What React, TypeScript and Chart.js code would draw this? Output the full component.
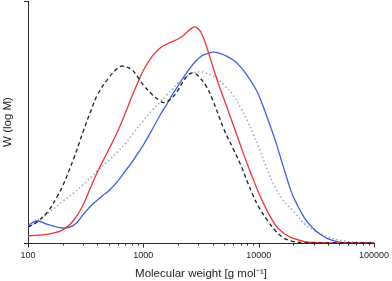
import React, { useEffect, useRef } from "react";
import { Chart, registerables } from "chart.js";

Chart.register(...registerables);

// x tick labels (powers of ten) and log axis range
const majorTicks = [100, 1000, 10000, 100000];
const xMin = 100;
const xMax = 100000;

// Series 1: black dashed
const dashedM = [100, 120, 150, 180, 200, 250, 300, 350, 400, 500, 600, 650, 700, 800, 900, 1000, 1200, 1400, 1500, 1600, 1800, 2000, 2200, 2400, 2600, 2800, 3000, 3500, 4000, 5000, 6000, 7000, 8000, 9000, 10000, 12000, 14000, 16000, 18000, 20000, 25000, 30000, 100000];
const dashedW = [0.066, 0.087, 0.132, 0.194, 0.236, 0.351, 0.459, 0.545, 0.612, 0.682, 0.723, 0.731, 0.729, 0.715, 0.684, 0.653, 0.612, 0.587, 0.58, 0.583, 0.603, 0.632, 0.665, 0.69, 0.702, 0.7, 0.69, 0.649, 0.59, 0.47, 0.39, 0.322, 0.252, 0.194, 0.149, 0.091, 0.05, 0.025, 0.012, 0.006, 0.001, 0, 0];

// Series 2: red solid
const redM = [100, 150, 200, 250, 300, 350, 400, 450, 500, 600, 700, 800, 900, 1000, 1200, 1400, 1600, 1800, 2000, 2200, 2400, 2600, 2800, 3000, 3200, 3500, 4000, 4500, 5000, 6000, 7000, 8000, 9000, 10000, 12000, 14000, 16000, 18000, 20000, 25000, 30000, 40000, 100000];
const redW = [0.029, 0.037, 0.054, 0.095, 0.157, 0.231, 0.293, 0.343, 0.385, 0.462, 0.538, 0.608, 0.665, 0.713, 0.773, 0.806, 0.822, 0.833, 0.843, 0.855, 0.872, 0.886, 0.893, 0.884, 0.866, 0.818, 0.73, 0.655, 0.595, 0.49, 0.4, 0.324, 0.262, 0.208, 0.128, 0.074, 0.045, 0.029, 0.019, 0.006, 0.002, 0, 0];

// Series 3: blue solid
const blueM = [100, 120, 150, 200, 250, 300, 350, 400, 450, 500, 600, 700, 800, 900, 1000, 1200, 1400, 1600, 1800, 2000, 2400, 2800, 3200, 3500, 4000, 4500, 5000, 6000, 7000, 8000, 9000, 10000, 12000, 14000, 16000, 18000, 20000, 25000, 30000, 35000, 40000, 50000, 60000, 100000];
const blueW = [0.074, 0.091, 0.076, 0.062, 0.074, 0.116, 0.153, 0.178, 0.198, 0.215, 0.256, 0.298, 0.335, 0.372, 0.405, 0.471, 0.529, 0.574, 0.616, 0.649, 0.707, 0.748, 0.773, 0.781, 0.789, 0.785, 0.777, 0.756, 0.727, 0.69, 0.653, 0.612, 0.512, 0.421, 0.331, 0.252, 0.19, 0.103, 0.058, 0.033, 0.017, 0.004, 0, 0];

// Series 4: grey dotted
const greyM = [100, 150, 200, 250, 300, 400, 500, 600, 700, 800, 1000, 1200, 1400, 1600, 1800, 2000, 2400, 2800, 3200, 3500, 4000, 4500, 5000, 6000, 7000, 8000, 9000, 10000, 12000, 14000, 16000, 18000, 20000, 25000, 30000, 40000, 50000, 70000, 100000];
const greyW = [0.066, 0.124, 0.172, 0.207, 0.24, 0.298, 0.341, 0.378, 0.412, 0.447, 0.506, 0.55, 0.583, 0.612, 0.636, 0.661, 0.69, 0.705, 0.707, 0.702, 0.69, 0.674, 0.653, 0.612, 0.558, 0.504, 0.45, 0.397, 0.298, 0.227, 0.182, 0.153, 0.132, 0.079, 0.054, 0.025, 0.012, 0.002, 0];

const FONT = "'Liberation Sans', Arial, Helvetica, sans-serif";
const AXIS = "#2b2b2b";

const toPts = (xs: number[], ys: number[]) => xs.map((x, i) => ({ x, y: ys[i] }));

const xTickValues: number[] = [];
majorTicks.forEach((m, i) => {
  xTickValues.push(m);
  if (i < majorTicks.length - 1) {
    for (let k = 2; k <= 9; k++) xTickValues.push(m * k);
  }
});

const tickPlugin = {
  id: "logTicks",
  afterDraw(chart: any) {
    const s = chart.scales.x;
    const ctx = chart.ctx;
    ctx.save();
    ctx.strokeStyle = AXIS;
    ctx.lineWidth = 1;
    s.ticks.forEach((t: any) => {
      const px = Math.round(s.getPixelForValue(t.value)) + 0.5;
      const len = majorTicks.includes(t.value) ? 4.5 : 2.5;
      ctx.beginPath();
      ctx.moveTo(px, s.top);
      ctx.lineTo(px, s.top + len);
      ctx.stroke();
    });
    ctx.restore();
  },
};

const lineBase = { pointRadius: 0, tension: 0.4, fill: false };

export default function App() {
  const ref = useRef<HTMLCanvasElement | null>(null);
  useEffect(() => {
    document.body.style.margin = "0";
    const canvas = ref.current!;
    const chart = new Chart(canvas, {
      type: "line",
      data: {
        datasets: [
          { ...lineBase, data: toPts(dashedM, dashedW), borderColor: "#1c1c1c", borderWidth: 1.3, borderDash: [4, 3] },
          { ...lineBase, data: toPts(redM, redW), borderColor: "rgb(240, 52, 52)", borderWidth: 1.3 },
          { ...lineBase, data: toPts(blueM, blueW), borderColor: "rgb(62, 92, 238)", borderWidth: 1.3 },
          { ...lineBase, data: toPts(greyM, greyW), borderColor: "rgb(160, 166, 170)", borderWidth: 1.5, borderDash: [1.5, 2.5] },
        ],
      },
      options: {
        responsive: false,
        animation: false,
        layout: { padding: { top: 1, right: 16, left: 0, bottom: 0 } },
        plugins: { legend: { display: false }, tooltip: { enabled: false } },
        scales: {
          x: {
            type: "logarithmic",
            min: xMin,
            max: xMax,
            afterBuildTicks: (scale: any) => {
              scale.ticks = xTickValues.map((v) => ({ value: v, major: majorTicks.includes(v) }));
            },
            afterFit: (scale: any) => {
              scale.height = 38;
            },
            grid: { display: true, drawOnChartArea: false, drawTicks: true, tickLength: 4, tickColor: "rgba(0,0,0,0)" },
            border: { display: true, color: AXIS, width: 1 },
            ticks: {
              autoSkip: false,
              maxRotation: 0,
              minRotation: 0,
              padding: 3,
              color: "#222",
              font: { family: FONT, size: 9 },
              callback: (v: any) => (majorTicks.includes(Number(v)) ? String(v) : ""),
            },
            title: {
              display: true,
              text: "Molecular weight [g mol\u207B\u00B9]",
              color: "#222",
              font: { family: FONT, size: 11.5 },
              padding: { top: 0, bottom: 0 },
            },
          },
          y: {
            type: "linear",
            min: 0,
            max: 1,
            afterFit: (scale: any) => {
              scale.width = 28;
            },
            grid: { display: true, drawOnChartArea: false, drawTicks: true, tickLength: 4, tickColor: AXIS },
            border: { display: true, color: AXIS, width: 1 },
            ticks: { display: false, stepSize: 1 },
            title: {
              display: true,
              text: "W (log M)",
              color: "#222",
              font: { family: FONT, size: 11.5 },
              padding: { top: 1, bottom: 0 },
            },
          },
        },
      },
      plugins: [tickPlugin],
    });
    return () => chart.destroy();
  }, []);
  return <canvas ref={ref} width={392} height={281} style={{ display: "block" }} />;
}
